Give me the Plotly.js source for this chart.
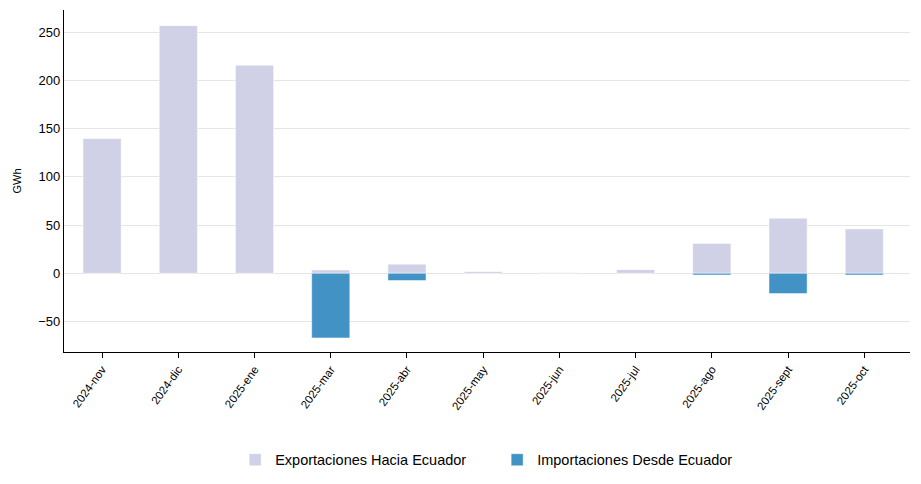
<!DOCTYPE html>
<html>
<head>
<meta charset="utf-8">
<script src="https://cdn.plot.ly/plotly-3.0.1.min.js"></script>
<style>html,body{margin:0;padding:0;background:#fff;}#chart{width:921px;height:484px;}</style>
</head>
<body>
<div id="chart"></div>
<script>
const categories = ["2024-nov","2024-dic","2025-ene","2025-mar","2025-abr","2025-may","2025-jun","2025-jul","2025-ago","2025-sept","2025-oct"];
const exportaciones = [140, 257, 216, 3.5, 9.5, 2, 1, 4, 31, 57, 46];
const importaciones = [0, 0, 0, -67, -7.5, 0, 0, 0, -1.8, -21, -1.8];

const traces = [
  {type:"bar", name:"Exportaciones Hacia Ecuador", x:categories, y:exportaciones,
   marker:{color:"#d0d1e6", line:{color:"rgba(255,255,255,0.6)", width:0.8}}, width:0.5},
  {type:"bar", name:"Importaciones Desde Ecuador", x:categories, y:importaciones,
   marker:{color:"#4292c6", line:{color:"rgba(255,255,255,0.6)", width:0.8}}, width:0.5}
];
const layout = {
  width:921, height:484,
  margin:{l:64, r:11, t:10, b:132},
  barmode:"relative",
  paper_bgcolor:"#fff", plot_bgcolor:"#fff",
  font:{family:"Liberation Sans, Arial, sans-serif", color:"#000", size:12},
  showlegend:true,
  legend:{orientation:"h", x:0.512, xanchor:"center", yref:"container", y:0.05, yanchor:"middle",
    font:{size:14.5}, itemwidth:30, entrywidth:217},
  xaxis:{type:"category", range:[-0.5,10.6], automargin:false, showline:true, linecolor:"#000", linewidth:1.2,
    ticks:"outside", ticklen:5, tickcolor:"#000", tickangle:-54, tickfont:{size:11.5}, showgrid:false, zeroline:false},
  yaxis:{range:[-81.6,273], automargin:false, showline:true, linecolor:"#000", linewidth:1.2, ticks:"",
    tickvals:[-50,0,50,100,150,200,250], ticktext:["\u221250","0","50","100","150","200","250"],
    tickfont:{size:13}, showgrid:true, gridcolor:"#e5e5e5", gridwidth:1, zeroline:false,
    title:{text:"GWh", font:{size:11}, standoff:14}}
};
Plotly.newPlot("chart", traces, layout, {displayModeBar:false, staticPlot:true});
</script>
</body>
</html>
